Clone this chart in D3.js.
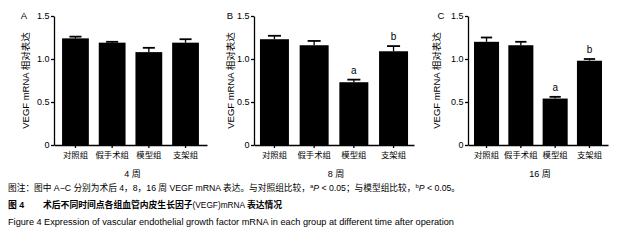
<!DOCTYPE html>
<html>
<head>
<meta charset="utf-8">
<script src="https://cdn.jsdelivr.net/npm/d3@7"></script>
<style>
  body { margin: 0; background: #fff; }
  svg text { font-family: "Liberation Sans", Arial, "Noto Sans CJK SC", sans-serif; fill: #000; }
</style>
</head>
<body>
<svg id="chart" width="633" height="242"></svg>
<script>
// groups shown on every panel
const groups = ["对照组", "假手术组", "模型组", "支架组"];
const yTicks = [0, 0.5, 1.0, 1.5];

// mean and upper error per panel
const meansA = [1.24, 1.19, 1.08, 1.19];
const errA   = [1.26, 1.20, 1.13, 1.23];
const meansB = [1.23, 1.16, 0.73, 1.09];
const errB   = [1.27, 1.21, 0.76, 1.15];
const meansC = [1.20, 1.16, 0.54, 0.98];
const errC   = [1.25, 1.20, 0.56, 1.00];

// significance letters
const sigA = ["", "", "", ""];
const sigB = ["", "", "a", "b"];
const sigC = ["", "", "a", "b"];

const panels = [
    {label: "A", week: "4 周", means: meansA, err: errA, sig: sigA, x0: 54, x1: 207, po: 0.22, titleX: 25.5, labelX: 24},
    {label: "B", week: "8 周", means: meansB, err: errB, sig: sigB, x0: 254, x1: 414, po: 0.15, titleX: 230, labelX: 230},
    {label: "C", week: "16 周", means: meansC, err: errC, sig: sigC, x0: 468, x1: 608, po: 0.175, titleX: 436, labelX: 441}
];

const svg = d3.select("#chart");
svg.append("rect").attr("width", 633).attr("height", 242).attr("fill", "#fff");

const yScale = d3.scaleLinear().domain([0, 1.5]).range([145, 16]);

panels.forEach(p => {
    const g = svg.append("g");

    const xScale = d3.scaleBand()
        .domain(groups)
        .range([p.x0, p.x1])
        .paddingInner(0.27)
        .paddingOuter(p.po);

    const yAxis = d3.axisLeft(yScale)
        .tickValues(yTicks)
        .tickSize(3)
        .tickSizeOuter(0)
        .tickFormat(d => d === 0 ? "0" : d3.format(".1f")(d));

    const xAxis = d3.axisBottom(xScale)
        .tickSize(3)
        .tickSizeOuter(0);

    const yAxisG = g.append("g")
        .attr("transform", `translate(${p.x0},0)`)
        .call(yAxis);
    yAxisG.selectAll("text").attr("font-size", 9).attr("x", -4.5);

    const xAxisG = g.append("g")
        .attr("transform", `translate(0,${yScale(0)})`)
        .call(xAxis);
    xAxisG.selectAll("text").attr("font-size", 8.4).attr("y", 7.5)
        .style("font-family", "Noto Sans CJK SC, sans-serif");

    g.selectAll("path.domain, .tick line").attr("stroke", "#000").attr("stroke-width", 1.3);

    // bars
    g.selectAll(".bar")
        .data(p.means)
        .join("rect")
        .attr("class", "bar")
        .attr("x", (d, i) => xScale(groups[i]))
        .attr("width", xScale.bandwidth())
        .attr("y", d => yScale(d))
        .attr("height", d => yScale(0) - yScale(d))
        .attr("fill", "#000");

    // upper error bars
    const capW = xScale.bandwidth() * 0.45;
    p.err.forEach((e, i) => {
        const cx = xScale(groups[i]) + xScale.bandwidth() / 2;
        g.append("line")
            .attr("x1", cx).attr("x2", cx)
            .attr("y1", yScale(p.means[i])).attr("y2", yScale(e))
            .attr("stroke", "#000").attr("stroke-width", 1.3);
        g.append("line")
            .attr("x1", cx - capW / 2).attr("x2", cx + capW / 2)
            .attr("y1", yScale(e)).attr("y2", yScale(e))
            .attr("stroke", "#000").attr("stroke-width", 1.8);
    });

    // significance letters
    g.selectAll(".sig")
        .data(p.sig)
        .join("text")
        .attr("class", "sig")
        .attr("x", (d, i) => xScale(groups[i]) + xScale.bandwidth() / 2)
        .attr("y", (d, i) => yScale(p.err[i]) - 6)
        .attr("text-anchor", "middle")
        .attr("font-size", 10)
        .text(d => d);

    // axis titles
    g.append("text")
        .attr("transform", `translate(${p.titleX + 3.5},${(yScale(0) + yScale(1.5)) / 2}) rotate(-90)`)
        .attr("text-anchor", "middle")
        .attr("font-size", 9.5)
        .text("VEGF mRNA 相对表达");

    g.append("text")
        .attr("x", (p.x0 + p.x1) / 2 + 2)
        .attr("y", 176.5)
        .attr("text-anchor", "middle")
        .attr("font-size", 9)
        .text(p.week);

    g.append("text")
        .attr("x", p.labelX)
        .attr("y", 19)
        .attr("text-anchor", "middle")
        .attr("font-size", 9.5)
        .text(p.label);
});

// caption
const cap1 = svg.append("text").attr("x", 8).attr("y", 191).attr("font-size", 8.7);
cap1.append("tspan").text("图注：图中 A−C 分别为术后 4，8，16 周 VEGF mRNA 表达。与对照组比较，");
cap1.append("tspan").attr("font-size", 6).attr("dy", -3.5).text("a");
cap1.append("tspan").attr("dy", 3.5).attr("font-style", "italic").text("P");
cap1.append("tspan").text(" < 0.05；与模型组比较，");
cap1.append("tspan").attr("font-size", 6).attr("dy", -3.5).text("b");
cap1.append("tspan").attr("dy", 3.5).attr("font-style", "italic").text("P");
cap1.append("tspan").text(" < 0.05。");

const cap2 = svg.append("text").attr("y", 208).attr("font-size", 8.8);
cap2.append("tspan").attr("x", 8).attr("font-weight", "bold").text("图 4");
cap2.append("tspan").attr("x", 43).attr("font-weight", "bold").text("术后不同时间点各组血管内皮生长因子");
cap2.append("tspan").attr("font-size", 8.3).text("(VEGF)mRNA ");
cap2.append("tspan").attr("font-weight", "bold").text("表达情况");

const cap3 = svg.append("text").attr("y", 225).attr("font-size", 9.2);
cap3.append("tspan").attr("x", 8).text("Figure 4");
cap3.append("tspan").attr("x", 44).text("Expression of vascular endothelial growth factor mRNA in each group at different time after operation");
</script>
</body>
</html>
